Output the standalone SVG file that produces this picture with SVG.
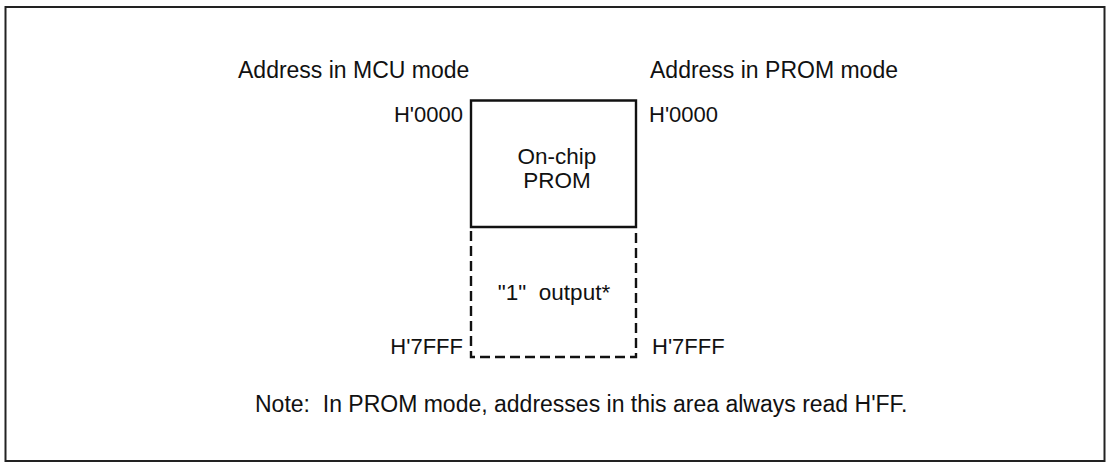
<svg xmlns="http://www.w3.org/2000/svg" width="1108" height="463" viewBox="0 0 1108 463">
<style>
text{font-family:"Liberation Sans",Arial,sans-serif;font-size:22.5px;fill:#111;white-space:pre}
.h{font-size:23px}
.a{font-size:22px}
.s{stroke:#111;stroke-width:2.4;fill:none}
.d{stroke:#111;stroke-width:2.4;fill:none;stroke-dasharray:10 5}
</style>
<rect x="5.5" y="7" width="1099" height="454" fill="#fff" stroke="#222" stroke-width="2"/>
<g id="labels">
<text class="h" x="238" y="78">Address in MCU mode</text>
<text class="h" x="650" y="78">Address in PROM mode</text>
<text class="a" x="463" y="122" text-anchor="end">H'0000</text>
<text class="a" x="649" y="122">H'0000</text>
<text class="a" x="463" y="354" text-anchor="end">H'7FFF</text>
<text class="a" x="652" y="354">H'7FFF</text>
</g>
<g id="prom">
<path class="s" d="M471,227 V100.5 H636 V227 Z"/>
<text x="557" y="164" text-anchor="middle">On-chip</text>
<text x="557" y="188" text-anchor="middle">PROM</text>
</g>
<g id="output">
<path class="d" d="M471,231 V357 H636 V231"/>
<text x="554" y="300" text-anchor="middle">"1"  output*</text>
</g>
<g id="connectors"></g>
<text class="h" x="255" y="412">Note:  In PROM mode, addresses in this area always read H'FF.</text>
</svg>
